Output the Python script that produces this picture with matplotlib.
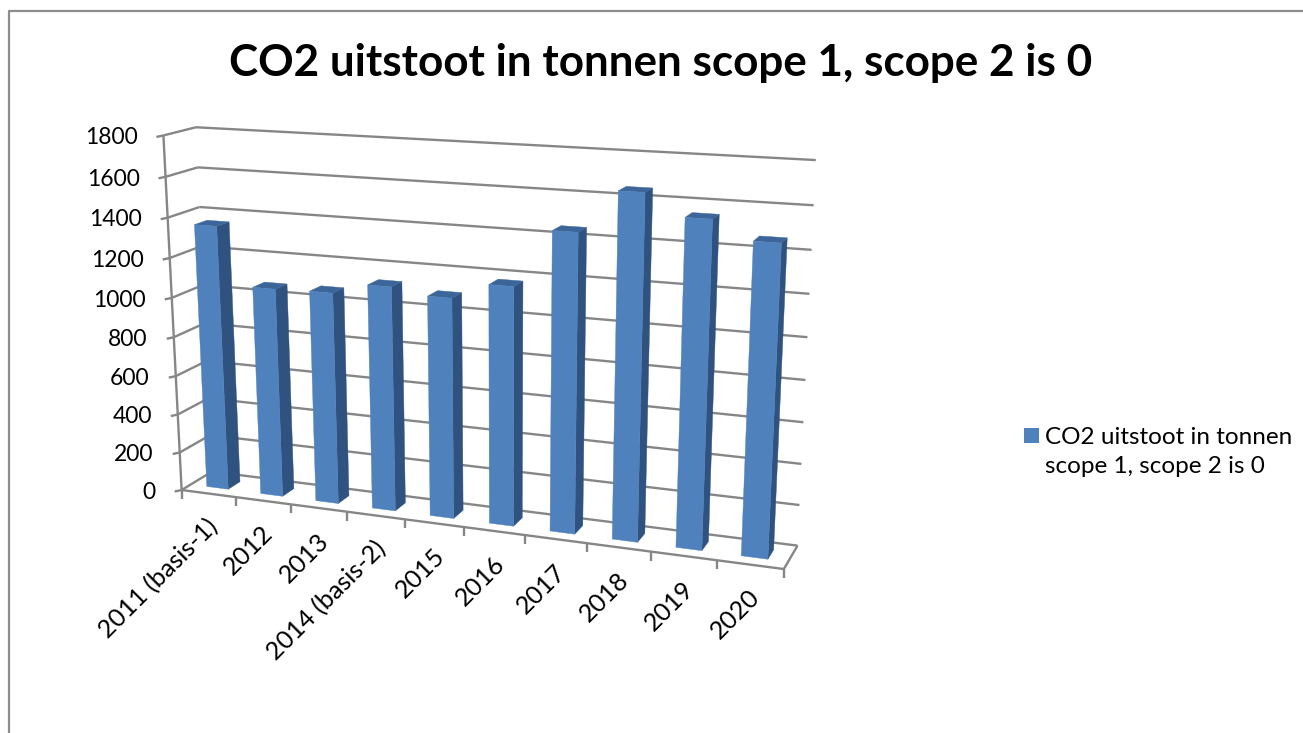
import numpy as np
import matplotlib
matplotlib.use("Agg")
import matplotlib.pyplot as plt
from matplotlib.patches import Polygon, Rectangle

TITLE = "CO2 uitstoot in tonnen scope 1, scope 2 is 0"
LEGEND = "CO2 uitstoot in tonnen\nscope 1, scope 2 is 0"
categories = ["2011 (basis-1)", "2012", "2013", "2014 (basis-2)", "2015",
              "2016", "2017", "2018", "2019", "2020"]
values = [1355, 1065, 1070, 1125, 1095, 1175, 1450, 1650, 1550, 1465]
y_ticks = [0, 200, 400, 600, 800, 1000, 1200, 1400, 1600, 1800]

# Camera calibration: (category pos, value, depth) -> pixel, solved as a projective map
cal = [(0,1800,0,163.5,136),(0,1400,0,167,218),(0,200,0,179,452),(0,0,0,182,490),
       (1,0,0,236,497),(9,0,0,717,560),(10,0,0,784,569),
       (0,1800,1,197,127),(0,1600,1,197.7,167),(0,1400,1,199,207),(0,0,1,212,472),
       (10,1800,1,816,160),(10,1600,1,813,205),(10,1400,1,812,250),(10,0,1,797,546)]
A, b = [], []
for x, v, z, u, w in cal:
    X = [x, v/100, z, 1]
    A.append(X + [0,0,0,0] + [-u*c for c in X[:3]]); b.append(u*1)
    A.append([0,0,0,0] + X + [-w*c for c in X[:3]]); b.append(w*1)
A = np.array(A, float); b = np.array(b, float)
h = np.linalg.lstsq(A, b, rcond=None)[0]
def P(x, v, z):
    X = np.array([x, v/100, z, 1.0])
    d = h[8]*X[0] + h[9]*X[1] + h[10]*X[2] + 1.0
    return (h[:4] @ X / d, h[4:8] @ X / d)

fig = plt.figure(figsize=(13.03, 7.33), dpi=100, facecolor="white")
ax = fig.add_axes([0, 0, 1, 1])
ax.set_xlim(0, 1303); ax.set_ylim(733, 0); ax.axis("off")
plt.rcParams["font.family"] = ["Lato", "DejaVu Sans"]

GRID = "#868686"; LW = 1.7
def seg(p, q, z=1, lw=LW):
    ax.plot([p[0], q[0]], [p[1], q[1]], color=GRID, lw=lw, zorder=z, solid_capstyle="butt")

# chart frame
ax.plot([9, 9, 1303], [733, 11, 11], color="#8c8c8c", lw=1.6, zorder=0)

n = len(categories)
for t in y_ticks:
    seg(P(0, t, 1), P(n, t, 1))
    seg(P(0, t, 0), P(0, t, 1))
    f = P(0, t, 0)
    seg((f[0]-7, f[1]+1.5), f)
    ax.text(137.5 + (f[0]-163.5), f[1]+2.2, str(t),
            ha="right", va="center", fontsize=16.5, color="black", zorder=5)
seg(P(0, 0, 0), P(0, 1800, 0))
seg(P(0, 0, 0), P(n, 0, 0))
seg(P(n, 0, 0), P(n, 0, 1))
for i in range(n+1):
    p = P(i, 0, 0)
    seg(p, (p[0], p[1]+9))

FRONT, SIDE, TOP = "#4F81BD", "#30527F", "#3C669A"
x0, x1, z0, z1 = 0.30, 0.70, 0.30, 0.70
for i, v in enumerate(values):
    zo = 3 + i*0.01
    ax.add_patch(Polygon([P(i+x1,0,z0),P(i+x1,0,z1),P(i+x1,v,z1),P(i+x1,v,z0)], fc=SIDE, ec=SIDE, lw=0.3, zorder=zo))
    ax.add_patch(Polygon([P(i+x0,v,z0),P(i+x1,v,z0),P(i+x1,v,z1),P(i+x0,v,z1)], fc=TOP, ec=TOP, lw=0.3, zorder=zo))
    ax.add_patch(Polygon([P(i+x0,0,z0),P(i+x1,0,z0),P(i+x1,v,z0),P(i+x0,v,z0)], fc=FRONT, ec=FRONT, lw=0.3, zorder=zo))
    t = P(i+0.5, 0, 0)
    ax.text(t[0]+6, t[1]+29, categories[i], rotation=45, rotation_mode="anchor", ha="right", va="center",
            fontsize=18.2, color="black", zorder=5)

ax.text(661, 63, TITLE, ha="center", va="center", fontsize=31.7, fontweight="bold", color="black")
ax.add_patch(Rectangle((1024, 428), 15, 15, fc=FRONT, ec="none"))
ax.text(1045, 452, LEGEND, ha="left", va="center", fontsize=17.5, color="black", linespacing=1.5)

fig.savefig("out.png", dpi=100)
